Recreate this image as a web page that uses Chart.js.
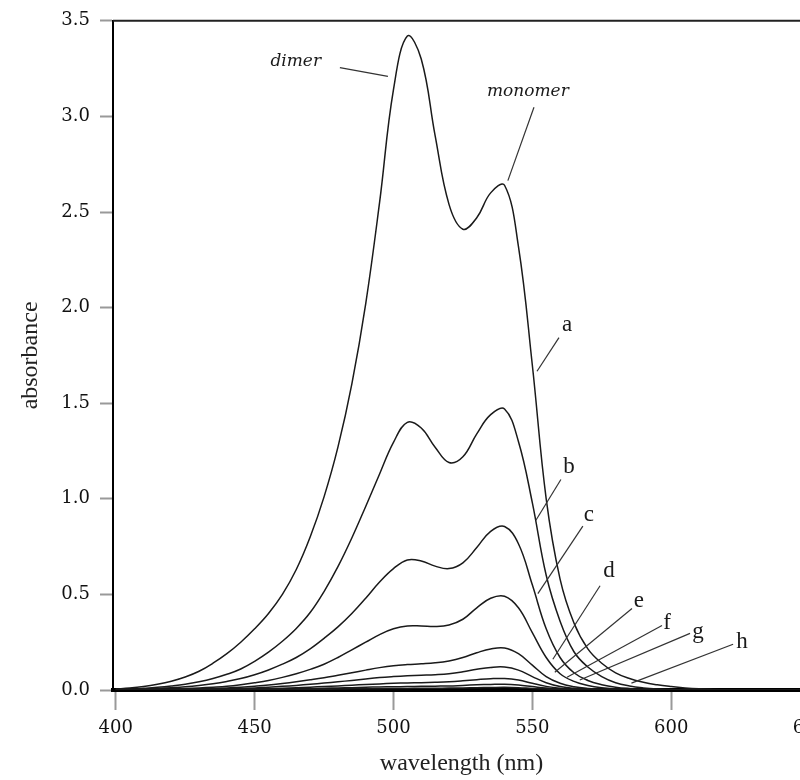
<!DOCTYPE html>
<html>
<head>
<meta charset="utf-8">
<title>absorbance spectra</title>
<script src="https://cdn.jsdelivr.net/npm/chart.js@4.4.1/dist/chart.umd.min.js"></script>
<style>
  html, body { margin: 0; padding: 0; background: #fff; overflow: hidden; }
  #wrap { width: 840px; height: 780px; }
</style>
</head>
<body>
<div id="wrap"><canvas id="spectra" width="840" height="780"></canvas></div>
<script>
// wavelength grid (nm)
const wavelengths = [
  400, 405, 410, 415, 420, 425, 430, 435, 440, 445,
  450, 455, 460, 465, 470, 475, 480, 485, 490, 495,
  500, 505, 510, 515, 520, 525, 530, 535, 540, 545,
  550, 555, 560, 565, 570, 575, 580, 585, 590, 595,
  600, 605, 610, 615, 620, 625, 630, 635, 640, 645, 650
];
const xTicks = [400, 450, 500, 550, 600, 650];
const yTicks = [0, 0.5, 1.0, 1.5, 2.0, 2.5, 3.0, 3.5];

// absorbance of each spectrum, one value per wavelength above
const seriesA = [
  0.005, 0.010, 0.018, 0.030, 0.046, 0.068, 0.098, 0.140, 0.190, 0.250,
  0.320, 0.400, 0.500, 0.630, 0.800, 1.010, 1.270, 1.600, 2.020, 2.550,
  3.140, 3.420, 3.300, 2.900, 2.540, 2.410, 2.470, 2.600, 2.640, 2.320,
  1.700, 1.000, 0.580, 0.350, 0.215, 0.140, 0.090, 0.060, 0.040, 0.027,
  0.018, 0.011, 0.006, 0.003, 0.001, 0, 0, 0, 0, 0, 0
];
const seriesB = [
  0.003, 0.005, 0.009, 0.014, 0.021, 0.030, 0.043, 0.060, 0.082, 0.110,
  0.150, 0.198, 0.255, 0.322, 0.405, 0.515, 0.645, 0.795, 0.960, 1.130,
  1.295, 1.400, 1.370, 1.270, 1.190, 1.220, 1.340, 1.440, 1.470, 1.300,
  0.980, 0.600, 0.360, 0.200, 0.120, 0.070, 0.038, 0.021, 0.011, 0.005,
  0.002, 0.001, 0, 0, 0, 0, 0, 0, 0, 0, 0
];
const seriesC = [
  0.002, 0.003, 0.005, 0.008, 0.012, 0.017, 0.024, 0.033, 0.045, 0.060,
  0.080, 0.105, 0.135, 0.170, 0.215, 0.270, 0.330, 0.400, 0.480, 0.565,
  0.635, 0.680, 0.675, 0.648, 0.635, 0.665, 0.745, 0.830, 0.855, 0.765,
  0.550, 0.320, 0.170, 0.090, 0.050, 0.028, 0.015, 0.008, 0.004, 0.002,
  0.001, 0, 0, 0, 0, 0, 0, 0, 0, 0, 0
];
const seriesD = [
  0.001, 0.002, 0.003, 0.004, 0.006, 0.008, 0.011, 0.015, 0.020, 0.028,
  0.038, 0.050, 0.066, 0.085, 0.108, 0.135, 0.170, 0.210, 0.250, 0.290,
  0.320, 0.335, 0.335, 0.332, 0.340, 0.370, 0.430, 0.480, 0.490, 0.430,
  0.300, 0.170, 0.085, 0.045, 0.024, 0.012, 0.006, 0.003, 0.001, 0,
  0, 0, 0, 0, 0, 0, 0, 0, 0, 0, 0
];
const seriesE = [
  0, 0.001, 0.001, 0.002, 0.003, 0.004, 0.006, 0.008, 0.011, 0.015,
  0.020, 0.026, 0.034, 0.043, 0.053, 0.064, 0.077, 0.090, 0.104, 0.117,
  0.127, 0.133, 0.137, 0.142, 0.152, 0.170, 0.195, 0.215, 0.220, 0.190,
  0.130, 0.070, 0.035, 0.017, 0.008, 0.004, 0.002, 0.001, 0, 0,
  0, 0, 0, 0, 0, 0, 0, 0, 0, 0, 0
];
const seriesF = [
  0, 0, 0.001, 0.001, 0.002, 0.002, 0.003, 0.004, 0.006, 0.008,
  0.011, 0.015, 0.019, 0.024, 0.030, 0.036, 0.043, 0.050, 0.058, 0.065,
  0.070, 0.074, 0.077, 0.080, 0.085, 0.095, 0.108, 0.118, 0.120, 0.104,
  0.070, 0.038, 0.018, 0.009, 0.004, 0.002, 0.001, 0, 0, 0,
  0, 0, 0, 0, 0, 0, 0, 0, 0, 0, 0
];
const seriesG = [
  0, 0, 0, 0.001, 0.001, 0.001, 0.002, 0.002, 0.003, 0.004,
  0.006, 0.007, 0.009, 0.012, 0.015, 0.018, 0.021, 0.025, 0.029, 0.032,
  0.035, 0.037, 0.038, 0.040, 0.043, 0.048, 0.054, 0.059, 0.060, 0.052,
  0.035, 0.019, 0.009, 0.004, 0.002, 0.001, 0, 0, 0, 0,
  0, 0, 0, 0, 0, 0, 0, 0, 0, 0, 0
];
const seriesH = [
  0, 0, 0, 0, 0, 0.001, 0.001, 0.001, 0.002, 0.002,
  0.003, 0.004, 0.005, 0.006, 0.007, 0.009, 0.011, 0.012, 0.014, 0.016,
  0.017, 0.018, 0.019, 0.020, 0.021, 0.024, 0.027, 0.029, 0.030, 0.026,
  0.018, 0.010, 0.005, 0.002, 0.001, 0, 0, 0, 0, 0,
  0, 0, 0, 0, 0, 0, 0, 0, 0, 0, 0
];
const seriesI = [
  0, 0, 0, 0, 0, 0, 0, 0.001, 0.001, 0.001,
  0.002, 0.002, 0.002, 0.003, 0.003, 0.004, 0.005, 0.006, 0.007, 0.007,
  0.008, 0.008, 0.009, 0.009, 0.010, 0.011, 0.012, 0.013, 0.014, 0.012,
  0.008, 0.005, 0.002, 0.001, 0, 0, 0, 0, 0, 0,
  0, 0, 0, 0, 0, 0, 0, 0, 0, 0, 0
];
const curves = [seriesA, seriesB, seriesC, seriesD, seriesE, seriesF, seriesG, seriesH, seriesI];

// callout labels: text centre, then leader line start/end, all in (nm, absorbance)
const callouts = [
  { text: "dimer",   at: [464.8, 3.287], from: [480.7, 3.255], to: [498.0, 3.209], italic: true },
  { text: "monomer", at: [548.4, 3.131], from: [550.6, 3.048], to: [541.2, 2.664], italic: true },
  { text: "a", at: [562.5, 1.911], from: [559.6, 1.843], to: [551.7, 1.667] },
  { text: "b", at: [563.2, 1.168], from: [560.3, 1.101], to: [551.3, 0.888] },
  { text: "c", at: [570.4, 0.914], from: [568.2, 0.857], to: [552.0, 0.504] },
  { text: "d", at: [577.6, 0.623], from: [574.4, 0.545], to: [557.4, 0.161] },
  { text: "e", at: [588.4, 0.467], from: [585.9, 0.426], to: [558.1, 0.093] },
  { text: "f", at: [598.5, 0.353], from: [596.7, 0.337], to: [562.5, 0.067] },
  { text: "g", at: [609.7, 0.301], from: [606.8, 0.296], to: [567.1, 0.052] },
  { text: "h", at: [625.5, 0.249], from: [622.3, 0.239], to: [585.7, 0.036] }
];

const serif = "'Liberation Serif', 'Times New Roman', serif";
const tickFont = "'DejaVu Serif', serif";

// top and right edges of the plot box
const frame = {
  id: "frame",
  afterDraw(chart) {
    const { ctx, chartArea: a } = chart;
    ctx.save();
    ctx.strokeStyle = "#222";
    ctx.lineWidth = 2;
    ctx.beginPath();
    ctx.moveTo(a.left, a.top);
    ctx.lineTo(a.right, a.top);
    ctx.lineTo(a.right, a.bottom);
    ctx.stroke();
    ctx.restore();
  }
};

// leader lines and their letters
const leaders = {
  id: "leaders",
  afterDatasetsDraw(chart) {
    const { ctx, scales: { x, y } } = chart;
    ctx.save();
    ctx.strokeStyle = "#333";
    ctx.lineWidth = 1.2;
    ctx.fillStyle = "#1a1a1a";
    ctx.textAlign = "center";
    ctx.textBaseline = "middle";
    callouts.forEach((c) => {
      ctx.beginPath();
      ctx.moveTo(x.getPixelForValue(c.from[0]), y.getPixelForValue(c.from[1]));
      ctx.lineTo(x.getPixelForValue(c.to[0]), y.getPixelForValue(c.to[1]));
      ctx.stroke();
      ctx.font = c.italic ? "italic 17px 'DejaVu Serif', serif" : "23px " + serif;
      ctx.fillText(c.text, x.getPixelForValue(c.at[0]), y.getPixelForValue(c.at[1]));
    });
    ctx.restore();
  }
};

const datasets = curves.map((values) => ({
  data: wavelengths.map((w, i) => ({ x: w, y: values[i] })),
  borderColor: "#1a1a1a",
  borderWidth: 1.5,
  pointRadius: 0,
  fill: false,
  tension: 0.4
}));

new Chart(document.getElementById("spectra"), {
  type: "line",
  data: { datasets },
  options: {
    responsive: false,
    animation: false,
    layout: { padding: { top: 16, right: 30, left: 0, bottom: 0 } },
    plugins: { legend: { display: false }, tooltip: { enabled: false } },
    scales: {
      x: {
        type: "linear",
        min: 399,
        max: 650,
        afterBuildTicks: (s) => { s.ticks = xTicks.map((v) => ({ value: v })); },
        afterFit: (s) => { s.height = 90; },
        grid: { drawOnChartArea: false, tickLength: 20, tickColor: "#999", tickWidth: 2 },
        border: { color: "#000", width: 4 },
        ticks: { color: "#111", font: { family: tickFont, size: 18 }, padding: 8, maxRotation: 0 },
        title: { display: true, text: "wavelength (nm)", color: "#222", font: { family: serif, size: 24 }, padding: { top: 0, bottom: 2 } }
      },
      y: {
        min: 0,
        max: 3.5,
        afterBuildTicks: (s) => { s.ticks = yTicks.map((v) => ({ value: v })); },
        afterFit: (s) => { s.width = 113; },
        grid: { drawOnChartArea: false, tickLength: 13, tickColor: "#999", tickWidth: 2 },
        border: { color: "#000", width: 2 },
        ticks: { color: "#111", font: { family: tickFont, size: 18 }, padding: 10, callback: (v) => v.toFixed(1) },
        title: { display: true, text: "absorbance", color: "#222", font: { family: serif, size: 24 }, padding: { top: 16, bottom: 0 } }
      }
    }
  },
  plugins: [frame, leaders]
});
</script>
</body>
</html>
